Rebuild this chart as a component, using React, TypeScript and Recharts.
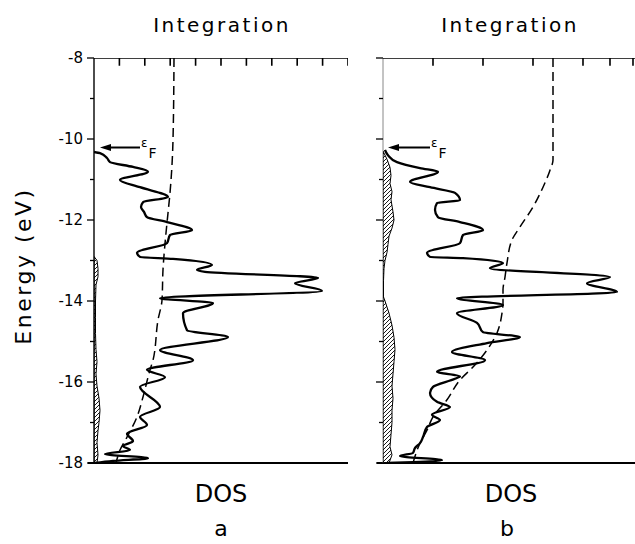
import React from 'react';
import { ScatterChart, Scatter, XAxis, YAxis, ReferenceLine } from 'recharts';

const FONT = '"DejaVu Sans", "Liberation Sans", sans-serif';

// Energy axis (eV)
const energyTicks = [-18, -17, -16, -15, -14, -13, -12, -11, -10, -9, -8];
const energyLabels = [-18, -16, -14, -12, -10, -8];
const fermiA = -10.21;
const fermiB = -10.21;

// top axis (DOS, arbitrary units) tick positions
const topTicksA = [25.4, 50.8, 76.2, 101.6, 127, 152.4, 177.8, 203.2, 228.6, 254];
const topTicksB = [50, 100, 150, 200, 227, 250, 254];

// Panel a: total DOS (solid)  e = energy (eV), d = DOS
const dosA = [
  { e: -10.32, d: 0 }, { e: -10.35, d: 6 }, { e: -10.47, d: 13 }, { e: -10.57, d: 16 },
  { e: -10.69, d: 39 }, { e: -10.81, d: 54 }, { e: -11.01, d: 26 }, { e: -11.19, d: 46 },
  { e: -11.43, d: 74 }, { e: -11.56, d: 49 }, { e: -11.68, d: 47 }, { e: -11.8, d: 50 },
  { e: -11.93, d: 53 }, { e: -12.05, d: 73 }, { e: -12.25, d: 98 }, { e: -12.37, d: 76 },
  { e: -12.57, d: 73 }, { e: -12.81, d: 43 }, { e: -12.91, d: 46 }, { e: -12.96, d: 79 },
  { e: -13.11, d: 118 }, { e: -13.23, d: 103 }, { e: -13.28, d: 111 }, { e: -13.43, d: 224 },
  { e: -13.56, d: 201 }, { e: -13.75, d: 228 }, { e: -13.93, d: 66 }, { e: -14.05, d: 119 },
  { e: -14.3, d: 89 }, { e: -14.72, d: 93 }, { e: -14.89, d: 134 }, { e: -15.21, d: 66 },
  { e: -15.46, d: 99 }, { e: -15.7, d: 53 }, { e: -15.88, d: 71 }, { e: -16.12, d: 46 },
  { e: -16.62, d: 66 }, { e: -16.86, d: 46 }, { e: -17.06, d: 53 }, { e: -17.28, d: 33 },
  { e: -17.46, d: 39 }, { e: -17.58, d: 29 }, { e: -17.68, d: 36 }, { e: -17.78, d: 11 },
  { e: -17.88, d: 54 }, { e: -17.95, d: 19 }, { e: -18.0, d: 1 },
];

// Panel a: integration (dashed)
const intA = [
  { e: -8.0, d: 80 }, { e: -10.02, d: 79 }, { e: -11.33, d: 76 }, { e: -11.83, d: 74 },
  { e: -12.32, d: 72 }, { e: -13.23, d: 69 }, { e: -13.98, d: 68 }, { e: -14.47, d: 64 },
  { e: -15.46, d: 59 }, { e: -15.7, d: 56 }, { e: -16.37, d: 49 }, { e: -16.86, d: 43 },
  { e: -17.36, d: 33 }, { e: -17.68, d: 26 }, { e: -18.0, d: 22 },
];

// Panel a: projected DOS (hatched)
const pdosA = [
  { e: -18.0, d: 3 }, { e: -17.8, d: 4 }, { e: -17.5, d: 3 }, { e: -17.2, d: 4 },
  { e: -17.0, d: 5 }, { e: -16.7, d: 6 }, { e: -16.4, d: 5 }, { e: -16.1, d: 3 },
  { e: -15.8, d: 2 }, { e: -15.5, d: 3 }, { e: -15.2, d: 2 }, { e: -14.8, d: 1.5 },
  { e: -14.4, d: 1.5 }, { e: -14.0, d: 1.5 }, { e: -13.6, d: 2 }, { e: -13.4, d: 4 },
  { e: -13.2, d: 4 }, { e: -13.0, d: 3 }, { e: -12.9, d: 0 }, { e: -18.0, d: 0 },
];

// Panel b: total DOS (solid)
const dosB = [
  { e: -10.27, d: 2 }, { e: -10.4, d: 5 }, { e: -10.57, d: 14 }, { e: -10.72, d: 37 },
  { e: -10.81, d: 55 }, { e: -11.06, d: 27 }, { e: -11.19, d: 47 }, { e: -11.33, d: 72 },
  { e: -11.51, d: 77 }, { e: -11.58, d: 54 }, { e: -11.75, d: 52 }, { e: -11.93, d: 55 },
  { e: -12.05, d: 77 }, { e: -12.25, d: 100 }, { e: -12.37, d: 80 }, { e: -12.57, d: 77 },
  { e: -12.81, d: 44 }, { e: -12.91, d: 47 }, { e: -12.94, d: 80 }, { e: -13.06, d: 120 },
  { e: -13.19, d: 107 }, { e: -13.41, d: 227 }, { e: -13.56, d: 204 }, { e: -13.78, d: 234 },
  { e: -13.93, d: 74 }, { e: -14.1, d: 120 }, { e: -14.3, d: 74 }, { e: -14.54, d: 94 },
  { e: -14.77, d: 100 }, { e: -14.89, d: 137 }, { e: -15.04, d: 104 }, { e: -15.26, d: 69 },
  { e: -15.46, d: 102 }, { e: -15.75, d: 54 }, { e: -15.86, d: 77 }, { e: -15.92, d: 72 },
  { e: -16.12, d: 50 }, { e: -16.27, d: 47 }, { e: -16.49, d: 54 }, { e: -16.62, d: 67 },
  { e: -16.81, d: 49 }, { e: -16.94, d: 57 }, { e: -17.11, d: 44 }, { e: -17.36, d: 40 },
  { e: -17.51, d: 37 }, { e: -17.63, d: 32 }, { e: -17.75, d: 30 }, { e: -17.83, d: 17 },
  { e: -17.93, d: 59 }, { e: -17.98, d: 30 }, { e: -18.0, d: 4 },
];

// Panel b: integration (dashed)
const intB = [
  { e: -8.0, d: 170 }, { e: -10.52, d: 170 }, { e: -10.77, d: 167 }, { e: -11.19, d: 160 },
  { e: -11.68, d: 150 }, { e: -12.17, d: 137 }, { e: -12.49, d: 129 }, { e: -13.06, d: 124 },
  { e: -13.41, d: 122 }, { e: -13.73, d: 120 }, { e: -14.05, d: 120 }, { e: -14.3, d: 119 },
  { e: -14.79, d: 114 }, { e: -15.21, d: 104 }, { e: -15.63, d: 90 }, { e: -15.95, d: 77 },
  { e: -16.44, d: 64 }, { e: -16.86, d: 50 }, { e: -17.19, d: 44 }, { e: -17.51, d: 37 },
  { e: -18.0, d: 30 },
];

// Panel b: projected DOS (hatched)
const pdosB = [
  { e: -18.0, d: 6 }, { e: -17.8, d: 9 }, { e: -17.6, d: 7 }, { e: -17.3, d: 8 },
  { e: -17.0, d: 9 }, { e: -16.7, d: 9 }, { e: -16.4, d: 10 }, { e: -16.1, d: 9 },
  { e: -15.8, d: 10 }, { e: -15.5, d: 11 }, { e: -15.2, d: 12 }, { e: -14.9, d: 11 },
  { e: -14.6, d: 9 }, { e: -14.3, d: 6 }, { e: -14.0, d: 2 }, { e: -13.9, d: 0.5 },
  { e: -13.5, d: 0.5 }, { e: -13.2, d: 1 }, { e: -13.0, d: 2 }, { e: -12.8, d: 4 },
  { e: -12.6, d: 5 }, { e: -12.4, d: 6 }, { e: -12.2, d: 9 }, { e: -12.0, d: 11 },
  { e: -11.8, d: 10 }, { e: -11.5, d: 8 }, { e: -11.3, d: 9 }, { e: -11.1, d: 7 },
  { e: -10.9, d: 8 }, { e: -10.7, d: 7 }, { e: -10.5, d: 4 }, { e: -10.3, d: 0 },
  { e: -18.0, d: 0 },
];

const NoShape = () => <g />;

const ArrowHead = (props: any) => {
  const { cx, cy } = props;
  return <path d={`M${cx},${cy} L${cx + 11},${cy - 3.6} L${cx + 11},${cy + 3.6} Z`} fill="#000" />;
};

const FermiLabel = (props: any) => {
  const { cx, cy } = props;
  return (
    <text x={cx + 1} y={cy - 1} fontFamily={FONT} fill="#000" fontSize={12}>
      ε
      <tspan dx={1} dy={11} fontSize={14}>F</tspan>
    </text>
  );
};

function makeEnergyTick(showLabel: boolean, color: string) {
  return (props: any) => {
    const { x, y, payload } = props;
    const v = payload.value;
    const major = energyLabels.indexOf(v) >= 0;
    return (
      <g>
        <line x1={x - (major ? 7 : 4)} x2={x} y1={y} y2={y} stroke={color} strokeWidth={1.3} />
        {showLabel && major ? (
          <text x={x - 11} y={y + 5} textAnchor="end" fontFamily={FONT} fontSize={15} fill="#000">
            {String(v)}
          </text>
        ) : null}
      </g>
    );
  };
}

// top frame line with inward tick marks, built from the tick positions
function topAxisPath(ticks: number[]) {
  const pts: { d: number; e: number }[] = [{ d: 0, e: -8 }];
  ticks.forEach((t) => {
    pts.push({ d: t - 0.01, e: -8 });
    pts.push({ d: t, e: -8.19 });
    pts.push({ d: t + 0.01, e: -8 });
  });
  return pts;
}

function Panel(props: any) {
  const { left, dos, integ, pdos, topTicks, showLabels, axisColor, axisWidth, hatchId, fermi, arrowTip, arrowTail } = props;
  const arrowLine = [{ e: fermi, d: arrowTail }, { e: fermi, d: arrowTip + 8 }];
  const topLine = topAxisPath(topTicks);
  return (
    <div style={{ position: 'absolute', left, top: 0 }}>
      <ScatterChart width={360} height={544} margin={{ top: 58, right: 12, bottom: 81, left: 0 }}>
        <defs>
          <pattern id={hatchId} patternUnits="userSpaceOnUse" width={4} height={4}>
            <path d="M-1,1 L1,-1 M0,4 L4,0 M3,5 L5,3" stroke="#000" strokeWidth={0.9} />
          </pattern>
        </defs>
        <XAxis type="number" dataKey="d" domain={[0, 254]} allowDataOverflow hide />
        <YAxis
          type="number"
          dataKey="e"
          domain={[-18, -8]}
          allowDataOverflow
          width={94}
          ticks={energyTicks}
          interval={0}
          tickSize={0}
          tickMargin={0}
          tickLine={false}
          tick={makeEnergyTick(showLabels, '#000')}
          axisLine={{ stroke: axisColor, strokeWidth: axisWidth }}
        />
        <Scatter
          data={topLine}
          shape={NoShape}
          line={{ stroke: '#000', strokeWidth: 1.6 }}
          lineJointType="linear"
          isAnimationActive={false}
        />
        <Scatter
          data={pdos}
          shape={NoShape}
          line={{ stroke: '#000', strokeWidth: 1, fill: `url(#${hatchId})` }}
          lineJointType="linearClosed"
          isAnimationActive={false}
        />
        <Scatter
          data={integ}
          shape={NoShape}
          line={{ stroke: '#000', strokeWidth: 1.5, strokeDasharray: '9 5' }}
          lineJointType="monotoneY"
          isAnimationActive={false}
        />
        <Scatter
          data={dos}
          shape={NoShape}
          line={{ stroke: '#000', strokeWidth: 2.3, strokeLinejoin: 'round' }}
          lineJointType="monotoneY"
          isAnimationActive={false}
        />
        <ReferenceLine
          segment={[{ x: -6, y: -18 }, { x: 254, y: -18 }]}
          stroke="#000"
          strokeWidth={2}
          ifOverflow="visible"
        />
        <Scatter
          data={arrowLine}
          shape={NoShape}
          line={{ stroke: '#000', strokeWidth: 2 }}
          isAnimationActive={false}
        />
        <Scatter data={[{ e: fermi, d: arrowTip }]} shape={ArrowHead} isAnimationActive={false} />
        <Scatter data={[{ e: fermi, d: arrowTail }]} shape={FermiLabel} isAnimationActive={false} />
      </ScatterChart>
    </div>
  );
}

export default function App() {
  return (
    <div
      style={{
        position: 'absolute',
        left: 0,
        top: 0,
        width: 635,
        height: 544,
        overflow: 'hidden',
        background: '#fff',
      }}
    >
      <Panel
        left={0}
        dos={dosA}
        integ={intA}
        pdos={pdosA}
        topTicks={topTicksA}
        showLabels={true}
        axisColor="#000"
        axisWidth={1.4}
        hatchId="hatchA"
        fermi={fermiA}
        arrowTip={6}
        arrowTail={46}
      />
      <Panel
        left={289}
        dos={dosB}
        integ={intB}
        pdos={pdosB}
        topTicks={topTicksB}
        showLabels={false}
        axisColor="#888"
        axisWidth={1}
        hatchId="hatchB"
        fermi={fermiB}
        arrowTip={5}
        arrowTail={47}
      />
      <svg
        width={635}
        height={544}
        style={{ position: 'absolute', left: 0, top: 0, pointerEvents: 'none' }}
        fontFamily={FONT}
      >
        <text x={222} y={32} textAnchor="middle" fontSize={20} letterSpacing={2.5}>Integration</text>
        <text x={510} y={32} textAnchor="middle" fontSize={20} letterSpacing={2.5}>Integration</text>
        <text x={221} y={502} textAnchor="middle" fontSize={24}>DOS</text>
        <text x={511} y={502} textAnchor="middle" fontSize={24}>DOS</text>
        <text x={221} y={536} textAnchor="middle" fontSize={22}>a</text>
        <text x={507} y={536} textAnchor="middle" fontSize={22}>b</text>
        <text
          x={31}
          y={266}
          textAnchor="middle"
          fontSize={22}
          letterSpacing={2.5}
          transform="rotate(-90 31 266)"
        >
          Energy (eV)
        </text>
      </svg>
    </div>
  );
}
